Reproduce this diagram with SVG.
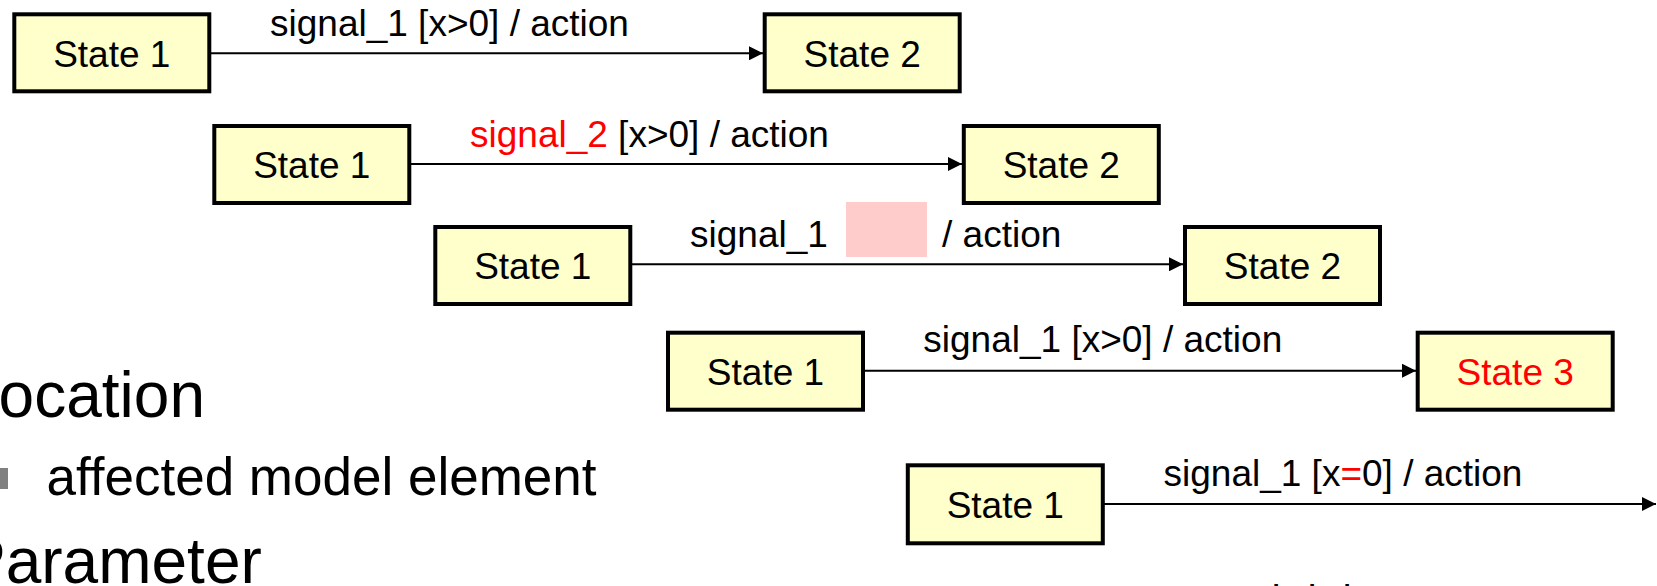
<svg xmlns="http://www.w3.org/2000/svg" width="1657" height="586" viewBox="0 0 1657 586">
<style>
.box{fill:#FFFFCC;stroke:#000;stroke-width:4}
.st{font-family:"Liberation Sans",Arial,sans-serif;font-size:37px;fill:#000;text-anchor:middle}
.lb{font-family:"Liberation Sans",Arial,sans-serif;font-size:37px;fill:#000}
.red{fill:#FF0000}
.conn{stroke:#000;stroke-width:2;fill:none;marker-end:url(#arr)}
.big{font-family:"Liberation Sans",Arial,sans-serif;fill:#000}
</style>
<defs>
<marker id="arr" markerUnits="userSpaceOnUse" markerWidth="14" markerHeight="14" refX="14" refY="7" orient="auto">
<path d="M0,0 L14,7 L0,14 z" fill="#000"/>
</marker>
</defs>
<rect width="1657" height="586" fill="#fff"/>

<g id="left-text">
<text class="big" x="-37" y="417" font-size="64">Location</text>
<rect x="0" y="468" width="8" height="21" fill="#808080"/>
<text class="big" x="46.5" y="495" font-size="53">affected model element</text>
<text class="big" x="-37" y="583" font-size="64">Parameter</text>
</g>

<g id="connectors">
<line class="conn" x1="211" y1="53.3" x2="763" y2="53.3"/>
<line class="conn" x1="411" y1="164" x2="962" y2="164"/>
<line class="conn" x1="632" y1="264.3" x2="1183" y2="264.3"/>
<line class="conn" x1="865" y1="370.7" x2="1416" y2="370.7"/>
<line class="conn" x1="1104" y1="504" x2="1656" y2="504"/>
</g>

<g id="labels">
<text class="lb" x="270" y="36">signal_1 [x&gt;0] / action</text>
<text class="lb" x="470" y="147">
<tspan class="red">signal_2</tspan> [x&gt;0] / action</text>
<text class="lb" x="690" y="247">signal_1</text>
<rect x="846" y="202" width="81" height="55" fill="#FFCCCC"/>
<text class="lb" x="942" y="247">/ action</text>
<text class="lb" x="923.3" y="352">signal_1 [x&gt;0] / action</text>
<text class="lb" x="1163.5" y="485.5">signal_1 [x<tspan class="red">=</tspan>0] / action</text>
<text class="lb" x="1271 1289 1307 1324 1342" y="588">. . .</text>
</g>

<g id="r1-s1"><rect class="box" x="14.3" y="14.3" width="195" height="77"/><text class="st" x="111.8" y="67">State 1</text></g>
<g id="r1-s2"><rect class="box" x="764.7" y="14.3" width="195" height="77"/><text class="st" x="862.2" y="67">State 2</text></g>
<g id="r2-s1"><rect class="box" x="214.3" y="126" width="195" height="77"/><text class="st" x="311.8" y="178">State 1</text></g>
<g id="r2-s2"><rect class="box" x="963.8" y="126" width="195" height="77"/><text class="st" x="1061.3" y="178">State 2</text></g>
<g id="r3-s1"><rect class="box" x="435.3" y="227" width="195" height="77"/><text class="st" x="532.8" y="279">State 1</text></g>
<g id="r3-s2"><rect class="box" x="1185" y="227" width="195" height="77"/><text class="st" x="1282.5" y="279">State 2</text></g>
<g id="r4-s1"><rect class="box" x="668" y="332.7" width="195" height="77"/><text class="st" x="765.5" y="385">State 1</text></g>
<g id="r4-s3"><rect class="box" x="1417.7" y="332.7" width="195" height="77"/><text class="st red" x="1515.2" y="385">State 3</text></g>
<g id="r5-s1"><rect class="box" x="907.8" y="465.3" width="195" height="78"/><text class="st" x="1005.3" y="518">State 1</text></g>
</svg>
